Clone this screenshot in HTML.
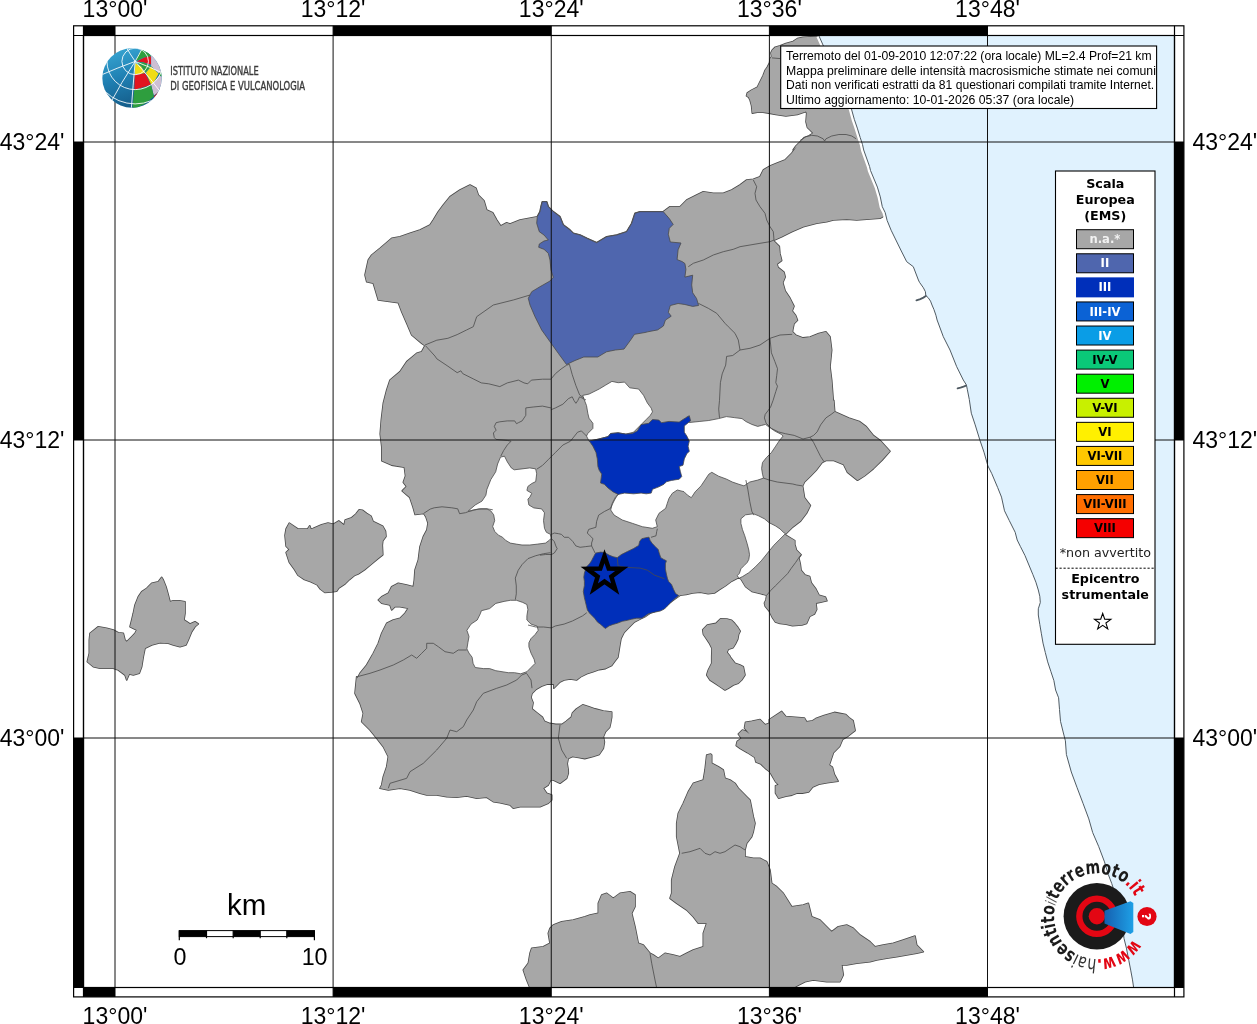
<!DOCTYPE html><html><head><meta charset="utf-8"><style>html,body{margin:0;padding:0;background:#fff;overflow:hidden;}svg{display:block}</style></head><body>
<svg width="1257" height="1024" viewBox="0 0 1257 1024">
<rect width="1257" height="1024" fill="#fff"/>
<defs><clipPath id="map"><rect x="83.5" y="35.5" width="1091" height="952"/></clipPath></defs>
<g clip-path="url(#map)">
<polygon points="470,185 476,188.3 478.3,195 484,200.7 486.7,210 492.7,212.7 496.7,220 500.7,226 506.7,222.7 510,224 520,220 537.3,216.7 540,211.7 541,206.7 542.3,201.7 546.7,201.7 548.3,206.7 553.3,211.7 560,216.7 563.3,225 570,230 573.3,233.3 580,235 586.7,238.3 596.7,242.7 606.7,236.7 616.7,235 626.7,231.7 631.7,223.3 635,213.3 640,211.7 663.3,211.7 670,206.7 680,206.7 686.7,200 696.7,195 703.3,191.7 713.3,193.3 723.3,193.3 731.7,190 740,185 746.7,180 753.3,179.3 760,176.7 763.3,170 770,166 776.7,163.3 785,160 791.7,153.3 796.7,146.7 793.1,150 795.9,146 800.2,141.7 804.5,137.4 808.8,136 813.1,133.1 810.3,130.2 807.4,127.4 806,121.7 806.7,113.1 806,111.6 797.4,114.5 785.9,115.9 775.9,114.5 768.7,113.1 763,112.3 757.3,112.3 752.3,113.1 751.6,105.9 750.1,100.2 748.7,97.3 746.5,95.9 747.3,93 751.6,90.1 757.3,87.3 760.1,81.6 763,75.8 765.2,70.1 767.3,67.2 769.5,62.9 770.2,58.6 771.6,56.5 770.9,52.9 772.3,50 775.2,47.2 780.2,45.8 785.9,43.6 793.1,41.5 797.4,38.6 803.1,37.2 818.1,36.4 819,36 851.4,108.8 854.3,119.3 857.3,128.1 860.2,137.5 862.5,144.5 863.7,150 869.6,166.6 870.5,170.5 877.4,187.1 880.3,196.9 882.3,206.7 885.2,212.6 882.7,216.7 880,218.3 866.7,219.3 856.7,220 846.7,219.3 833.3,220 826.7,221.7 816.7,223.3 803.3,226.7 791.7,231.7 781.7,236.7 773.4,240.6 779.3,246.4 779.9,253.4 781.7,260.5 777,264 778.1,267.5 784,272.2 785.2,276.9 782.8,282.8 785.2,291 789.9,298 794,306.2 792.2,310.9 795.7,315.6 797.5,320.3 794,323.8 792.8,329.6 792.5,331.8 796,335.3 803,337.9 810.1,337 818.8,333.5 825.9,331.8 830,336.7 831.7,350 830,366.7 831.7,380 833.3,401 833.8,400.3 834.7,411.7 848.7,417.9 859.3,421.4 866.3,426.7 873.3,435.4 880.4,440.7 890,451.3 882.1,460.1 873.3,468.8 864.5,475.9 857.5,480.3 847.5,472.3 843.6,464.5 833.8,460.5 826,460.5 822.1,462.5 816.2,470.3 810.4,476.2 804.5,482 802.6,485.9 804.5,497.7 810.4,505.5 806.5,513.3 800.6,521.1 792.8,527 785,534.8 794.8,540.6 794.8,544.5 795.6,546.9 796.4,550 801.1,554.7 798.8,557.8 800.3,564.1 801.1,570.3 805,575 809.7,576.6 811.2,582.8 815.9,589.1 819.1,595.3 825.3,596.9 826.9,600.8 820.6,602.3 815.9,603.1 816.7,609.4 814.4,614.1 809.7,616.4 806.6,623.4 801.9,625 792.5,625.8 786.2,624.2 780,623.4 775.3,621.9 772.2,617.2 769.1,610.9 765.2,606.2 764.4,603.1 765.9,600 766.7,595.3 761.2,593.8 751.9,591.4 745.6,586.7 740.9,578.9 739.4,578.1 737.8,578.1 731.6,581.2 725.3,585.9 719.1,589.8 714.4,593 708.1,593.8 700.3,592.2 692.5,593 686.2,594.5 680,595.3 678.9,596.2 671.6,601.4 665.4,606.5 657.2,610.7 651,612.7 644.8,616.9 640.6,618.9 634.4,622 628.2,628.3 624.1,632.4 621,638.6 619.9,644.8 618.9,651 617.9,657.2 614.8,661.3 611.7,665.5 605.5,668.6 599.3,669.6 593.1,671.7 586.8,673.8 580.6,676.9 576.5,680 570.3,678.9 564.1,680 560,682 555.8,686.2 553.8,688.2 553.8,684.1 547.5,684.1 541.3,686.2 536.2,689.3 532,693.4 531,697.5 533.1,702.7 532,708.9 537.2,713.1 542.4,717.2 544.4,721.3 549.6,723.4 555.8,724.4 562,724.4 566.2,721.3 571.3,717.2 572.4,713.1 576.5,708.9 582.7,704.8 588.9,706.8 595.1,708.9 603.4,711 611.7,712 611.7,717.2 610.6,723.4 609.6,727.5 605.5,731.7 603.4,736.8 604.4,742 603.4,748.2 599.3,754.4 593.1,756.5 584.8,758.6 578.6,757.5 572.4,756.5 568.2,758.6 567.2,763.7 568.2,769.9 568.3,773.3 566.7,778.3 560,783.3 553.3,780 550.7,780 548.3,785 543.3,788.3 546.7,793.3 551.7,795 551.7,800 548.3,803.3 540,806.7 530,806.7 520,806.7 513.3,808.3 510,805 500,802.7 493.3,801.7 486.7,797.3 476.7,798.3 466.7,796 456.7,797.3 446.7,796.7 436.7,795 426.7,795 420,793.3 410,790 400,788.3 388.3,790 380,788.3 381.7,785 383.3,776.7 386.7,766.7 388.3,756.7 383.3,746.7 376.7,738.3 370,730 361.7,721.7 363.3,713.3 360,703.3 355,693.3 356.7,676.7 357.3,678.3 360,673.3 366.7,665 373.3,653.3 378.3,643.3 381.7,633.3 386.7,623.3 393.3,620 400,618.3 405,613.3 408.3,608.3 400,606.7 395,606.7 391.7,610 390,605 381.7,603.3 378.3,600 381.7,596.7 388.3,593.3 391.7,586.7 398.3,583.3 406.7,585 413.3,586.7 414.3,580 415,570 418.3,560 420,546.7 423.3,536.7 426.9,530 428,523.1 425.9,516.7 423.7,513.4 415.1,514.5 413,507 409.7,497.3 402.2,490.9 406.5,486.6 403.3,482.3 405.5,475.9 404.4,467.3 391.5,465.1 381.8,460.8 381.8,446.9 380.2,434 381.3,420 381.7,416.7 383.3,403.3 386.7,390 390,380 400,371.7 406.7,361.7 416.7,353.3 421.7,351.7 425,345.7 421.7,343.3 411.7,335 406.7,323.3 401.7,311.7 398.3,302.7 378.3,300 373.3,283.3 366.7,281.7 365,275 368.3,260 371.7,255 380,248.3 391.7,238.3 400,236.7 410,233.3 420,230 430,225 433.3,220 438.3,211.7 443.3,205 450,196.7 460,190" fill="#a7a7a7" stroke="#4a4a4a" stroke-width="1.6" stroke-linejoin="round"/>
<polygon points="161.7,577.3 163.3,580 166,586.7 168.3,595 170,601.7 173.3,600.7 179.3,600.7 185,601.7 185,613.3 184,620 186.7,621.7 190,624 195,621.7 198.3,624 195,626.7 191.7,631.7 188.3,640 186,645 180,646.7 173.3,645 168.3,643.3 160,642.7 151.7,645 145,648.3 143.3,656.7 141.7,666.7 139.3,673.3 133.3,675 129.3,674 126.7,680 125,675 118.3,670 113.3,668.3 106.7,668.3 100,668.3 93.3,666.7 87.3,661.7 89.3,653.3 89.3,640 90,633.3 98.3,626.7 106.7,628.3 113.3,630 118.3,632.7 123.3,633.3 125,640 126.7,641.7 131.7,636.7 135,633.3 136.7,630 130,626.7 131.7,620 133.3,613.3 135,605 138.3,596.7 141.7,591.7 146.7,588.3 151.7,583.3 158.3,581.7" fill="#a7a7a7" stroke="#4a4a4a" stroke-width="1.6" stroke-linejoin="round"/>
<polygon points="289.3,523.1 297.9,529 307.6,529 309.8,525.8 310.8,529 313,528.5 321.6,524.7 328,523.1 333.4,524.2 338.8,520.9 344.1,525.2 345.2,519.9 351.7,517.7 355.9,514 359.2,509.7 362.4,510.2 366.7,513.4 371,516.1 373.1,521.5 382.8,526.3 385.5,531.2 386,536.5 382.8,540.8 382.3,545.1 382.8,554.8 377.4,559.1 371,564.5 364.5,569.8 358.1,574.1 354.9,575.2 349.5,579.5 345.2,583.8 338.8,588.1 336.6,591.3 331.2,591.9 324.8,592.4 320.5,589.2 317.3,584.9 310.8,581.7 304.4,579.5 297.9,575.2 294.7,569.8 289.3,562.3 286.1,552.6 289.3,549.4 286.1,546.2 285,535.5 286.1,529" fill="#a7a7a7" stroke="#4a4a4a" stroke-width="1.6" stroke-linejoin="round"/>
<polygon points="702.7,629.7 707.3,625 715.9,623.4 720.6,618.8 726.9,619.1 731.6,620.3 734.7,623.4 737.8,627.3 740.2,631.2 738.6,634.4 737.8,639.1 735.5,643.8 733.1,647.7 728.4,649.2 726.9,652.3 730,656.2 730,656.7 735,663.3 740,665 743.3,666.7 745,675 741.7,680 738.3,683.3 733.3,685 728.3,688.3 725,690 720,686.7 715,683.3 710,680 706.7,675 708.3,670 711.7,663.3 711.7,656.7 712,648.4 709.7,643.8 706.6,639.1 703.4,634.4" fill="#a7a7a7" stroke="#4a4a4a" stroke-width="1.6" stroke-linejoin="round"/>
<polygon points="738.3,734.1 742.4,730 745.5,731 749.6,734.1 744.5,727.9 745.5,722.2 751.7,721.2 760,719.6 765.2,724.8 769.3,723.3 769.3,719.6 781.7,711.4 785.8,716.5 804.5,718.1 806.5,721.7 812.7,720.7 815.8,718.6 824.1,715.5 834.4,712.4 839.6,713.4 845.8,714.5 848.9,717.6 853.1,720.7 855.1,730.5 847.9,736.2 842.7,739.3 839.6,746.5 833.4,752.7 831.3,758.9 829.3,765.1 832.4,767.2 834.4,774.5 838.1,781.2 827.2,782.7 818.9,784.3 812.7,786.9 808.6,792 802.4,793.1 797.2,793.1 792,795.1 785.8,796.2 778.6,798.2 775.5,793.1 775.5,785.8 778.6,784.8 775.5,781.7 771.4,774.5 769.3,771.4 765.2,768.3 761,764.1 755.9,762 754.8,757.4 747.6,752.7 740.3,748.6 736.2,745.5 737.2,741.4 741.4,738.3" fill="#a7a7a7" stroke="#4a4a4a" stroke-width="1.6" stroke-linejoin="round"/>
<polygon points="530,988 526.7,980 523.3,970 528.3,963.3 530,953.3 531.7,948.3 543.3,946.7 550,943.3 548.3,933.3 550,928.3 553.3,925 561.7,921.7 573.3,920 585,916.7 590,915 598.3,913.3 598.3,903.3 601.7,895 606.7,893.3 613.3,898.3 620,893.3 630,891.7 635,895 635,906.7 631.7,913.3 635,926.7 638.3,943.3 643.3,945 650,953.3 653.3,955 658.3,958.3 665,953.3 673.3,955 680,956.7 686.7,953.3 693.3,950 703.3,946.7 703.3,933.3 706.7,923.3 698.3,923.3 693.3,916.7 686.7,910 676.7,903.3 670,898.3 671.7,893.3 671.7,880 675,866.7 680,853.3 676.7,836.7 676.7,823.3 678.3,813.3 683.3,803.3 688.3,791.7 693.3,783.3 703.3,780 705,770 706.7,755 710.7,754 711.7,755 711.7,763.3 718.3,766.7 723.3,770 725,778.3 730,780 735,783.3 738.3,788.3 743.3,793.3 746.7,796.7 750,800 751.7,808.3 753.3,816.7 755,823.3 753.3,831.7 751.7,836.7 746.7,843.3 745,850 745,856.7 753.3,858.3 760,858.3 766.7,861.7 770,870 771.7,883.3 776.7,886.7 783.3,893.3 791.7,906.7 803.3,905 808.3,903.3 811.7,916.7 820,920 826.7,926.7 831.7,931.7 838.3,926.7 846.7,925 853.3,928.3 860,935 870,941.7 875,946.7 883.3,945 893.3,943.3 903.3,940 915,936 916.7,945 923.3,951.7 916.7,953.3 906.7,955 896.7,956.7 886.7,958.3 876.7,960 870,961.7 856.7,963.3 846.7,965 841.7,965 843.3,975 840,981.7 826.7,981.7 813.3,980 805,981.7 796.7,986 793.3,988" fill="#a7a7a7" stroke="#4a4a4a" stroke-width="1.6" stroke-linejoin="round"/>
<polygon points="470,185 476,188.3 478.3,195 484,200.7 486.7,210 492.7,212.7 496.7,220 500.7,226 506.7,222.7 510,224 520,220 537.3,216.7 540,211.7 541,206.7 542.3,201.7 546.7,201.7 548.3,206.7 553.3,211.7 560,216.7 563.3,225 570,230 573.3,233.3 580,235 586.7,238.3 596.7,242.7 606.7,236.7 616.7,235 626.7,231.7 631.7,223.3 635,213.3 640,211.7 663.3,211.7 670,206.7 680,206.7 686.7,200 696.7,195 703.3,191.7 713.3,193.3 723.3,193.3 731.7,190 740,185 746.7,180 753.3,179.3 760,176.7 763.3,170 770,166 776.7,163.3 785,160 791.7,153.3 796.7,146.7 793.1,150 795.9,146 800.2,141.7 804.5,137.4 808.8,136 813.1,133.1 810.3,130.2 807.4,127.4 806,121.7 806.7,113.1 806,111.6 797.4,114.5 785.9,115.9 775.9,114.5 768.7,113.1 763,112.3 757.3,112.3 752.3,113.1 751.6,105.9 750.1,100.2 748.7,97.3 746.5,95.9 747.3,93 751.6,90.1 757.3,87.3 760.1,81.6 763,75.8 765.2,70.1 767.3,67.2 769.5,62.9 770.2,58.6 771.6,56.5 770.9,52.9 772.3,50 775.2,47.2 780.2,45.8 785.9,43.6 793.1,41.5 797.4,38.6 803.1,37.2 818.1,36.4 819,36 851.4,108.8 854.3,119.3 857.3,128.1 860.2,137.5 862.5,144.5 863.7,150 869.6,166.6 870.5,170.5 877.4,187.1 880.3,196.9 882.3,206.7 885.2,212.6 882.7,216.7 880,218.3 866.7,219.3 856.7,220 846.7,219.3 833.3,220 826.7,221.7 816.7,223.3 803.3,226.7 791.7,231.7 781.7,236.7 773.4,240.6 779.3,246.4 779.9,253.4 781.7,260.5 777,264 778.1,267.5 784,272.2 785.2,276.9 782.8,282.8 785.2,291 789.9,298 794,306.2 792.2,310.9 795.7,315.6 797.5,320.3 794,323.8 792.8,329.6 792.5,331.8 796,335.3 803,337.9 810.1,337 818.8,333.5 825.9,331.8 830,336.7 831.7,350 830,366.7 831.7,380 833.3,401 833.8,400.3 834.7,411.7 848.7,417.9 859.3,421.4 866.3,426.7 873.3,435.4 880.4,440.7 890,451.3 882.1,460.1 873.3,468.8 864.5,475.9 857.5,480.3 847.5,472.3 843.6,464.5 833.8,460.5 826,460.5 822.1,462.5 816.2,470.3 810.4,476.2 804.5,482 802.6,485.9 804.5,497.7 810.4,505.5 806.5,513.3 800.6,521.1 792.8,527 785,534.8 794.8,540.6 794.8,544.5 795.6,546.9 796.4,550 801.1,554.7 798.8,557.8 800.3,564.1 801.1,570.3 805,575 809.7,576.6 811.2,582.8 815.9,589.1 819.1,595.3 825.3,596.9 826.9,600.8 820.6,602.3 815.9,603.1 816.7,609.4 814.4,614.1 809.7,616.4 806.6,623.4 801.9,625 792.5,625.8 786.2,624.2 780,623.4 775.3,621.9 772.2,617.2 769.1,610.9 765.2,606.2 764.4,603.1 765.9,600 766.7,595.3 761.2,593.8 751.9,591.4 745.6,586.7 740.9,578.9 739.4,578.1 737.8,578.1 731.6,581.2 725.3,585.9 719.1,589.8 714.4,593 708.1,593.8 700.3,592.2 692.5,593 686.2,594.5 680,595.3 678.9,596.2 671.6,601.4 665.4,606.5 657.2,610.7 651,612.7 644.8,616.9 640.6,618.9 634.4,622 628.2,628.3 624.1,632.4 621,638.6 619.9,644.8 618.9,651 617.9,657.2 614.8,661.3 611.7,665.5 605.5,668.6 599.3,669.6 593.1,671.7 586.8,673.8 580.6,676.9 576.5,680 570.3,678.9 564.1,680 560,682 555.8,686.2 553.8,688.2 553.8,684.1 547.5,684.1 541.3,686.2 536.2,689.3 532,693.4 531,697.5 533.1,702.7 532,708.9 537.2,713.1 542.4,717.2 544.4,721.3 549.6,723.4 555.8,724.4 562,724.4 566.2,721.3 571.3,717.2 572.4,713.1 576.5,708.9 582.7,704.8 588.9,706.8 595.1,708.9 603.4,711 611.7,712 611.7,717.2 610.6,723.4 609.6,727.5 605.5,731.7 603.4,736.8 604.4,742 603.4,748.2 599.3,754.4 593.1,756.5 584.8,758.6 578.6,757.5 572.4,756.5 568.2,758.6 567.2,763.7 568.2,769.9 568.3,773.3 566.7,778.3 560,783.3 553.3,780 550.7,780 548.3,785 543.3,788.3 546.7,793.3 551.7,795 551.7,800 548.3,803.3 540,806.7 530,806.7 520,806.7 513.3,808.3 510,805 500,802.7 493.3,801.7 486.7,797.3 476.7,798.3 466.7,796 456.7,797.3 446.7,796.7 436.7,795 426.7,795 420,793.3 410,790 400,788.3 388.3,790 380,788.3 381.7,785 383.3,776.7 386.7,766.7 388.3,756.7 383.3,746.7 376.7,738.3 370,730 361.7,721.7 363.3,713.3 360,703.3 355,693.3 356.7,676.7 357.3,678.3 360,673.3 366.7,665 373.3,653.3 378.3,643.3 381.7,633.3 386.7,623.3 393.3,620 400,618.3 405,613.3 408.3,608.3 400,606.7 395,606.7 391.7,610 390,605 381.7,603.3 378.3,600 381.7,596.7 388.3,593.3 391.7,586.7 398.3,583.3 406.7,585 413.3,586.7 414.3,580 415,570 418.3,560 420,546.7 423.3,536.7 426.9,530 428,523.1 425.9,516.7 423.7,513.4 415.1,514.5 413,507 409.7,497.3 402.2,490.9 406.5,486.6 403.3,482.3 405.5,475.9 404.4,467.3 391.5,465.1 381.8,460.8 381.8,446.9 380.2,434 381.3,420 381.7,416.7 383.3,403.3 386.7,390 390,380 400,371.7 406.7,361.7 416.7,353.3 421.7,351.7 425,345.7 421.7,343.3 411.7,335 406.7,323.3 401.7,311.7 398.3,302.7 378.3,300 373.3,283.3 366.7,281.7 365,275 368.3,260 371.7,255 380,248.3 391.7,238.3 400,236.7 410,233.3 420,230 430,225 433.3,220 438.3,211.7 443.3,205 450,196.7 460,190" fill="#a7a7a7"/>
<polygon points="161.7,577.3 163.3,580 166,586.7 168.3,595 170,601.7 173.3,600.7 179.3,600.7 185,601.7 185,613.3 184,620 186.7,621.7 190,624 195,621.7 198.3,624 195,626.7 191.7,631.7 188.3,640 186,645 180,646.7 173.3,645 168.3,643.3 160,642.7 151.7,645 145,648.3 143.3,656.7 141.7,666.7 139.3,673.3 133.3,675 129.3,674 126.7,680 125,675 118.3,670 113.3,668.3 106.7,668.3 100,668.3 93.3,666.7 87.3,661.7 89.3,653.3 89.3,640 90,633.3 98.3,626.7 106.7,628.3 113.3,630 118.3,632.7 123.3,633.3 125,640 126.7,641.7 131.7,636.7 135,633.3 136.7,630 130,626.7 131.7,620 133.3,613.3 135,605 138.3,596.7 141.7,591.7 146.7,588.3 151.7,583.3 158.3,581.7" fill="#a7a7a7"/>
<polygon points="289.3,523.1 297.9,529 307.6,529 309.8,525.8 310.8,529 313,528.5 321.6,524.7 328,523.1 333.4,524.2 338.8,520.9 344.1,525.2 345.2,519.9 351.7,517.7 355.9,514 359.2,509.7 362.4,510.2 366.7,513.4 371,516.1 373.1,521.5 382.8,526.3 385.5,531.2 386,536.5 382.8,540.8 382.3,545.1 382.8,554.8 377.4,559.1 371,564.5 364.5,569.8 358.1,574.1 354.9,575.2 349.5,579.5 345.2,583.8 338.8,588.1 336.6,591.3 331.2,591.9 324.8,592.4 320.5,589.2 317.3,584.9 310.8,581.7 304.4,579.5 297.9,575.2 294.7,569.8 289.3,562.3 286.1,552.6 289.3,549.4 286.1,546.2 285,535.5 286.1,529" fill="#a7a7a7"/>
<polygon points="702.7,629.7 707.3,625 715.9,623.4 720.6,618.8 726.9,619.1 731.6,620.3 734.7,623.4 737.8,627.3 740.2,631.2 738.6,634.4 737.8,639.1 735.5,643.8 733.1,647.7 728.4,649.2 726.9,652.3 730,656.2 730,656.7 735,663.3 740,665 743.3,666.7 745,675 741.7,680 738.3,683.3 733.3,685 728.3,688.3 725,690 720,686.7 715,683.3 710,680 706.7,675 708.3,670 711.7,663.3 711.7,656.7 712,648.4 709.7,643.8 706.6,639.1 703.4,634.4" fill="#a7a7a7"/>
<polygon points="738.3,734.1 742.4,730 745.5,731 749.6,734.1 744.5,727.9 745.5,722.2 751.7,721.2 760,719.6 765.2,724.8 769.3,723.3 769.3,719.6 781.7,711.4 785.8,716.5 804.5,718.1 806.5,721.7 812.7,720.7 815.8,718.6 824.1,715.5 834.4,712.4 839.6,713.4 845.8,714.5 848.9,717.6 853.1,720.7 855.1,730.5 847.9,736.2 842.7,739.3 839.6,746.5 833.4,752.7 831.3,758.9 829.3,765.1 832.4,767.2 834.4,774.5 838.1,781.2 827.2,782.7 818.9,784.3 812.7,786.9 808.6,792 802.4,793.1 797.2,793.1 792,795.1 785.8,796.2 778.6,798.2 775.5,793.1 775.5,785.8 778.6,784.8 775.5,781.7 771.4,774.5 769.3,771.4 765.2,768.3 761,764.1 755.9,762 754.8,757.4 747.6,752.7 740.3,748.6 736.2,745.5 737.2,741.4 741.4,738.3" fill="#a7a7a7"/>
<polygon points="530,988 526.7,980 523.3,970 528.3,963.3 530,953.3 531.7,948.3 543.3,946.7 550,943.3 548.3,933.3 550,928.3 553.3,925 561.7,921.7 573.3,920 585,916.7 590,915 598.3,913.3 598.3,903.3 601.7,895 606.7,893.3 613.3,898.3 620,893.3 630,891.7 635,895 635,906.7 631.7,913.3 635,926.7 638.3,943.3 643.3,945 650,953.3 653.3,955 658.3,958.3 665,953.3 673.3,955 680,956.7 686.7,953.3 693.3,950 703.3,946.7 703.3,933.3 706.7,923.3 698.3,923.3 693.3,916.7 686.7,910 676.7,903.3 670,898.3 671.7,893.3 671.7,880 675,866.7 680,853.3 676.7,836.7 676.7,823.3 678.3,813.3 683.3,803.3 688.3,791.7 693.3,783.3 703.3,780 705,770 706.7,755 710.7,754 711.7,755 711.7,763.3 718.3,766.7 723.3,770 725,778.3 730,780 735,783.3 738.3,788.3 743.3,793.3 746.7,796.7 750,800 751.7,808.3 753.3,816.7 755,823.3 753.3,831.7 751.7,836.7 746.7,843.3 745,850 745,856.7 753.3,858.3 760,858.3 766.7,861.7 770,870 771.7,883.3 776.7,886.7 783.3,893.3 791.7,906.7 803.3,905 808.3,903.3 811.7,916.7 820,920 826.7,926.7 831.7,931.7 838.3,926.7 846.7,925 853.3,928.3 860,935 870,941.7 875,946.7 883.3,945 893.3,943.3 903.3,940 915,936 916.7,945 923.3,951.7 916.7,953.3 906.7,955 896.7,956.7 886.7,958.3 876.7,960 870,961.7 856.7,963.3 846.7,965 841.7,965 843.3,975 840,981.7 826.7,981.7 813.3,980 805,981.7 796.7,986 793.3,988" fill="#a7a7a7"/>
<polyline points="819,36 851.4,108.8 854.3,119.3 857.3,128.1 860.2,137.5 862.5,144.5 863.7,150 869.6,166.6 870.5,170.5 877.4,187.1 880.3,196.9 882.3,206.7 885.2,212.6 887.1,220.4 891.1,230.2 895.9,240 900.8,250 906.7,261.7 913.3,266.7 918.4,280 919.5,282.3 923.4,287.8 925.4,291.7 925.8,295.6 928.1,297.6 930.5,301.1 932,305 934,309.7 935.9,315.2 937.1,320 943.3,336.7 950,350 956.7,366.7 963.3,380 966.4,384.9 967.4,389.8 969.3,399.5 971.3,413.2 975.2,424.9 980,440.5 984,452.2 987.9,465.9 991.8,473.7 997.6,487.4 1001.5,497.1 1004.5,510.8 1009.3,520.6 1015.2,532.3 1017.2,540 1020.3,546.3 1025,555.6 1028.9,565 1032.8,574.4 1035.9,582.2 1038.3,590 1039.8,596.3 1040.3,602.5 1038.3,608.8 1038.3,615 1039.8,624.4 1041.4,633.8 1043,643.1 1045.3,652.5 1047.7,661.9 1050.8,671.3 1053.9,680.6 1055.6,690 1058.6,697.8 1059.5,709.5 1060.5,721.3 1063.4,733 1065.4,740.8 1066.4,754.5 1071.3,772 1077.1,787.7 1083,803.3 1088.8,818.9 1092.7,832.6 1098.6,846.3 1104.5,861.9 1108.3,874.5 1111.7,883.4 1115.5,895 1119,908 1122,922 1124,938.4 1126.4,948.1 1128.8,960.4 1130.7,970.1 1132.5,979.9 1133.7,988" fill="none" stroke="#fff" stroke-width="5.5" stroke-linejoin="round"/>
<polygon points="817.8,33.5 819,36 851.4,108.8 854.3,119.3 857.3,128.1 860.2,137.5 862.5,144.5 863.7,150 869.6,166.6 870.5,170.5 877.4,187.1 880.3,196.9 882.3,206.7 885.2,212.6 887.1,220.4 891.1,230.2 895.9,240 900.8,250 906.7,261.7 913.3,266.7 918.4,280 919.5,282.3 923.4,287.8 925.4,291.7 925.8,295.6 928.1,297.6 930.5,301.1 932,305 934,309.7 935.9,315.2 937.1,320 943.3,336.7 950,350 956.7,366.7 963.3,380 966.4,384.9 967.4,389.8 969.3,399.5 971.3,413.2 975.2,424.9 980,440.5 984,452.2 987.9,465.9 991.8,473.7 997.6,487.4 1001.5,497.1 1004.5,510.8 1009.3,520.6 1015.2,532.3 1017.2,540 1020.3,546.3 1025,555.6 1028.9,565 1032.8,574.4 1035.9,582.2 1038.3,590 1039.8,596.3 1040.3,602.5 1038.3,608.8 1038.3,615 1039.8,624.4 1041.4,633.8 1043,643.1 1045.3,652.5 1047.7,661.9 1050.8,671.3 1053.9,680.6 1055.6,690 1058.6,697.8 1059.5,709.5 1060.5,721.3 1063.4,733 1065.4,740.8 1066.4,754.5 1071.3,772 1077.1,787.7 1083,803.3 1088.8,818.9 1092.7,832.6 1098.6,846.3 1104.5,861.9 1108.3,874.5 1111.7,883.4 1115.5,895 1119,908 1122,922 1124,938.4 1126.4,948.1 1128.8,960.4 1130.7,970.1 1132.5,979.9 1133.7,988 1133.5,989.5 1176.5,989.5 1176.5,33.5" fill="#e0f2fe"/>
<polyline points="819,36 851.4,108.8 854.3,119.3 857.3,128.1 860.2,137.5 862.5,144.5 863.7,150 869.6,166.6 870.5,170.5 877.4,187.1 880.3,196.9 882.3,206.7 885.2,212.6 887.1,220.4 891.1,230.2 895.9,240 900.8,250 906.7,261.7 913.3,266.7 918.4,280 919.5,282.3 923.4,287.8 925.4,291.7 925.8,295.6 928.1,297.6 930.5,301.1 932,305 934,309.7 935.9,315.2 937.1,320 943.3,336.7 950,350 956.7,366.7 963.3,380 966.4,384.9 967.4,389.8 969.3,399.5 971.3,413.2 975.2,424.9 980,440.5 984,452.2 987.9,465.9 991.8,473.7 997.6,487.4 1001.5,497.1 1004.5,510.8 1009.3,520.6 1015.2,532.3 1017.2,540 1020.3,546.3 1025,555.6 1028.9,565 1032.8,574.4 1035.9,582.2 1038.3,590 1039.8,596.3 1040.3,602.5 1038.3,608.8 1038.3,615 1039.8,624.4 1041.4,633.8 1043,643.1 1045.3,652.5 1047.7,661.9 1050.8,671.3 1053.9,680.6 1055.6,690 1058.6,697.8 1059.5,709.5 1060.5,721.3 1063.4,733 1065.4,740.8 1066.4,754.5 1071.3,772 1077.1,787.7 1083,803.3 1088.8,818.9 1092.7,832.6 1098.6,846.3 1104.5,861.9 1108.3,874.5 1111.7,883.4 1115.5,895 1119,908 1122,922 1124,938.4 1126.4,948.1 1128.8,960.4 1130.7,970.1 1132.5,979.9 1133.7,988" fill="none" stroke="#4f5a62" stroke-width="1" stroke-linejoin="round"/>
<polyline points="925.8,296 923.4,297.6 920.3,299.1 916.4,300.3" fill="none" stroke="#4f5a62" stroke-width="1.8" stroke-linecap="round"/>
<polyline points="966,385.6 963.5,386.6 960.5,387.6 957.6,388.4" fill="none" stroke="#4f5a62" stroke-width="1.8" stroke-linecap="round"/>
<polygon points="582.7,395.4 589,394.1 599.2,389 605.5,385.2 611.9,381.4 618.2,382.7 624.6,382.1 629.7,387.8 638.6,389 643.6,395.4 647.4,403 651.2,408.1 652.5,411.9 650,415.7 646.2,419.5 642.4,423.3 638.6,427.1 633.5,432.2 625.9,434.1 618.2,432.8 610.6,433.5 608.1,436.6 597.9,439.2 589,441.1 586.5,436 587.8,433.5 592.9,428.4 592.9,423.3 589,418.2 587.8,413.2 586.5,405.5 584,399.2" fill="#fff" stroke="#4a4a4a" stroke-width="0.8" stroke-linejoin="round"/>
<polygon points="687.3,416.7 689.3,422.5 699.1,421.5 708.8,420.5 718.6,418.6 726.4,416.6 734.2,417.6 742,418.6 745.9,421.5 751.8,424.4 757.7,426.4 761.6,425.4 765.5,424.4 769.4,427.3 775.2,431.3 781.1,434.2 783,436.1 779.1,441 775.2,446.9 771.3,452.7 766.4,457.6 762.5,462.5 761.6,468.4 762.5,474.2 763.5,478.1 757.7,480.1 749.8,482 744,485.9 738.1,484 732.3,482 726.4,479.1 718.6,476.2 711.8,472.3 708.8,474.2 704.9,480.1 701,485.9 695.2,491.8 691.3,497.7 687.3,495 684,491.7 677.3,490 672.3,493.3 669,498.3 667.3,503.3 665.7,508.3 659,513.3 655.7,520 657.3,526.7 652.3,528.3 642.3,526.7 632.3,523.3 622.3,520 614,515 610.7,510 612.3,503.3 615.7,496.7 622.3,491 632.3,489 642.3,488 652.3,484 662.3,479 672.3,475 676,475 676,466.7 680,458.3 684,451.7 684,446.7 684,440 682,435 681,426.7 686,420" fill="#fff" stroke="#4a4a4a" stroke-width="0.8" stroke-linejoin="round"/>
<polygon points="468.3,510.9 475.2,505 482,501.1 485.9,495.2 486.9,489.4 490.8,479.6 495.7,471.8 497.6,464 500.5,457.1 504.5,456.2 507.4,462 511.3,467.9 514.2,469.8 522,468.9 529.8,467.9 535.7,468.9 536.7,473.8 535.7,481.6 531.8,483.5 527.9,486.4 526.9,490.4 531.8,493.3 529.8,497.2 527.9,499.1 528.9,505 533.8,507.9 541.6,508.9 544.5,512.8 543.5,520.6 544.5,528.4 546.4,532.3 550.4,534.3 551.3,538.2 549.4,540.2 545.5,543.1 537.7,544.1 529.8,545 522,545 516.2,544.1 510.3,543.1 505.4,540.2 502.5,537.2 498.6,535.3 494.7,531.4 492.7,526.5 494.7,520.6 493.7,514.8 490.8,510.9 486.9,508.9 479.1,508.9 471.2,510.9" fill="#fff" stroke="#4a4a4a" stroke-width="0.8" stroke-linejoin="round"/>
<polygon points="466.9,630.3 471,624.1 477.2,620 480.3,613.8 481.4,610.7 489.6,608.6 495.8,603.4 504.1,601.4 510.3,600.3 516.5,600.3 522.7,602.4 526.9,604.5 527.9,609.6 526.9,615.8 526.9,620 531,624.1 537.2,626.2 538.2,630.3 535.1,634.5 531,638.6 528.9,642.7 528.9,646.9 531,653.1 534.1,659.3 535.1,663.4 531,667.5 526.9,671.7 520.7,673.8 514.5,672.7 508.3,672.7 502,671.7 495.8,670.7 489.6,668.6 483.4,668.6 475.2,667.5 473.1,663.4 472.1,657.2 469,653.1 466.9,648.9 467.9,642.7 469,636.5" fill="#fff" stroke="#4a4a4a" stroke-width="0.8" stroke-linejoin="round"/>
<polygon points="740.9,518.8 745.6,514.8 753.4,513.8 758.1,515.6 764.4,518.8 769.1,522.7 775.3,525.8 780,528.9 783.9,532.8 785.5,533.6 780,539.1 773.8,545.3 767.5,553.1 761.2,560.9 755,567.2 748.8,572.7 742.5,576.6 739.4,578.1 737,575.8 739.4,573.4 740.9,568.8 744.1,565.6 747.2,562.5 748.8,559.4 749.5,554.7 748.8,550 747.2,543.8 744.8,535.9 742.5,529.7 740.9,523.4" fill="#fff" stroke="#4a4a4a" stroke-width="0.8" stroke-linejoin="round"/>
<polygon points="537.3,216.7 540,211.7 541,206.7 542.3,201.7 546.7,201.7 548.3,206.7 553.3,211.7 560,216.7 563.3,225 570,230 573.3,233.3 580,235 586.7,238.3 596.7,242.7 606.7,236.7 616.7,235 626.7,231.7 631.7,223.3 635,213.3 640,211.7 663.3,211.7 669.3,218.6 673.2,224.4 669.3,228.3 668.3,234.2 670.3,242 681,243 678.1,249.8 677.1,259.6 682,261.5 684.9,263.5 685.9,269.3 684.9,277.1 692.7,275.2 691.7,285 692.7,292.8 696.6,298.6 698.6,305.5 692.7,306.4 684.9,304.5 678.1,303.5 670.3,305.5 668.3,312.3 671.2,316.2 665.4,320.1 663.4,326 657.6,329.9 647.8,331.8 645,332.5 634.5,334.3 631,339.5 624,349.1 615.3,350 606.5,351.8 597.8,357 583.8,357 575,360.5 566.5,364.5 558.3,353.3 550,341.7 541.7,330 535,316.7 530,305 528.3,298.3 531.7,291.7 540,286.7 550,281 553.3,277.3 551,270 550,260 548.3,253.3 544,249.3 538.7,247.3 539.3,244 544,241 548.3,240 544,235 539.3,231.7 536.7,223.3" fill="#4f66ae" stroke="#4a4a4a" stroke-width="0.8" stroke-linejoin="round"/>
<polygon points="589,441.1 597.9,439.2 608.1,436.6 610.6,433.5 618.2,432.8 625.9,434.1 632.2,433.5 637.3,430.9 641.1,424.6 648.7,423.3 652.5,419.5 658.9,420.1 661.4,422.7 669,421.4 679.2,422.1 683,419.5 689.3,415.7 690.6,420.8 684.3,425.9 684.3,432.2 686.8,436 689.3,441.1 688.1,446.2 689.3,451.3 686.8,453.8 684.3,458.9 683,465.2 679.2,466.5 680.4,471.6 681.7,476.6 679.2,479.2 671.6,480.4 666.5,481.7 663.9,484.3 658.9,486.8 652.5,489.3 651.2,493.1 646.2,493.8 641.1,493.1 633.5,493.8 624.6,493.1 618.2,494.4 613.2,491.9 608.1,488.1 604.3,484.3 600.5,483 601.7,474.1 599.2,470.3 597.9,466.5 597.3,458.9 596,452.5 592.9,446.2 590.3,442.4" fill="#002fba" stroke="#4a4a4a" stroke-width="0.8" stroke-linejoin="round"/>
<polygon points="595.6,553.1 600.8,552.1 604.9,552.6 609,555.1 613.1,556.7 617.2,557.7 621.3,554.6 627.4,551.5 633.6,548.5 638.7,545.4 639.7,541.3 641.8,538.7 645.9,537.7 649,537.2 650,540.3 652.1,543.3 655.1,546.4 658.2,549.5 659.2,553.1 660.8,557.7 663.3,559.2 666.4,560.8 665.4,563.8 665.4,569 666.4,574.1 667.4,578.2 668.5,581.3 671.5,584.4 673.6,589.5 675.6,593.6 678.7,595.6 673.6,599.7 670.5,602.8 667.4,605.9 664.4,609 660.3,611 655.1,612.1 651,613.1 647.9,614.1 644.9,616.2 641.8,618.2 636.7,618.2 631.5,619.2 627.4,620.3 622.3,621.3 617.2,623.3 613.1,624.4 609,625.9 605.4,628.5 602.8,626.4 600.8,624.4 597.7,622.3 594.6,618.2 592.6,616.2 589.5,613.1 587.4,610 586.4,605.9 585.4,601.8 584.4,597.7 583.3,591.5 584.4,585.4 584.4,581.3 583.8,577.2 584.4,573.1 586.4,566.9 589.5,563.8 591.5,560.8 593.6,556.7" fill="#002fba" stroke="#4a4a4a" stroke-width="0.8" stroke-linejoin="round"/>
<polyline points="425,345 436.8,340.2 447.9,338.3 457.2,334.6 466.5,330 473.3,326.7 476.7,316.7 493.3,305 513.3,300 530,295" fill="none" stroke="#4a4a4a" stroke-width="0.8" stroke-linejoin="round"/>
<polyline points="425.6,345.8 434.9,356 436.8,358.8 447.9,366.2 457.2,372.7 460.9,370.8 462.7,373.6 473.9,379.2 481.3,382.9 488.7,383.8 499.8,386.6 507.3,382.9 518.4,380.1 524,382.9 527.7,383.8 531.4,380.1 542.5,379.2 550.9,379.2 555.5,373.6 561.1,369 566.6,365.2 569.4,364.3" fill="none" stroke="#4a4a4a" stroke-width="0.8" stroke-linejoin="round"/>
<polyline points="569.4,364.3 572.2,374.5 575.9,385.6 579.6,394.9 584,398" fill="none" stroke="#4a4a4a" stroke-width="0.8" stroke-linejoin="round"/>
<polyline points="550.9,409.8 555.5,407.9 562.9,404.2 568.5,398.6 572.2,396.8 574,400.5 575.9,403.3 577.8,400.5 579.6,396.8 586,400" fill="none" stroke="#4a4a4a" stroke-width="0.8" stroke-linejoin="round"/>
<polyline points="550.9,407.9 542.5,406.1 533.2,407 525.8,407.9 525.8,415.3 522.1,420.9 518.4,422.7 516.5,423.7 514.7,420.9 507.3,420.9 499.8,421.8 496.1,422.7 494.3,426.5 496.1,430.2 493.4,433 494.3,437.6 496.1,439.4 507.3,440.4 511,441.3" fill="none" stroke="#4a4a4a" stroke-width="0.8" stroke-linejoin="round"/>
<polyline points="511,441.3 507.3,445 503.6,450.6 500.8,456.1" fill="none" stroke="#4a4a4a" stroke-width="0.8" stroke-linejoin="round"/>
<polyline points="586.5,436 581.4,430.9 577.6,432.2 570.3,441.3 562.9,445 555.5,452.4 548.1,459.8 542.5,465.4 536.9,469.1" fill="none" stroke="#4a4a4a" stroke-width="0.8" stroke-linejoin="round"/>
<polyline points="423.7,513.4 430.2,509.1 434.2,507.8 442,506.8 451.8,507.8 457.7,508.8 459.6,513.7 465.5,512.7 473.3,509.8 481.1,508.8 487,508.8 492.8,509.8" fill="none" stroke="#4a4a4a" stroke-width="0.8" stroke-linejoin="round"/>
<polyline points="698.3,303.3 708.3,308.3 716.7,313.3 725,323.3 728.3,326.7 735,333.3 738.3,340 740,350" fill="none" stroke="#4a4a4a" stroke-width="0.8" stroke-linejoin="round"/>
<polyline points="740,350 750,348.3 760,345 770,338.3 780,335 792.2,334.3" fill="none" stroke="#4a4a4a" stroke-width="0.8" stroke-linejoin="round"/>
<polyline points="740,350 732.7,355.5 726.6,356.4 725.7,365.1 722.2,373.9 720.4,382.7 719.5,400.3 718.7,409.1 719.5,417.9" fill="none" stroke="#4a4a4a" stroke-width="0.8" stroke-linejoin="round"/>
<polyline points="770,338.3 771.4,352.8 774.9,361.6 777.5,368.7 776.7,375.7 775.8,382.7 777.5,386.2 775.8,391.5 773.1,400.3 770.5,407.3 767.9,410.8 765.2,414.4 764.4,417.9 766.1,423.1" fill="none" stroke="#4a4a4a" stroke-width="0.8" stroke-linejoin="round"/>
<polyline points="688.3,266.7 693.3,263.3 703.3,260 713.3,255 723.3,251.7 733.3,249.3 740,246.7 750,245 760,243.3 770,241.7 774,240" fill="none" stroke="#4a4a4a" stroke-width="0.8" stroke-linejoin="round"/>
<polyline points="753.3,180 756.7,186.7 755,193.3 756,200 760,206.7 765,213.3 766.7,220 770,226.7 773.3,231.7 774,240" fill="none" stroke="#4a4a4a" stroke-width="0.8" stroke-linejoin="round"/>
<polyline points="800.2,140.3 806,136.7 811.7,135.3 817.4,136 823.2,138.8 824.6,141 826,138.8 831.7,136 838.9,134.5 846.1,134.5 851.8,136 856.1,138.8" fill="none" stroke="#4a4a4a" stroke-width="0.8" stroke-linejoin="round"/>
<polyline points="772,57.9 780.2,58.6" fill="none" stroke="#4a4a4a" stroke-width="0.8" stroke-linejoin="round"/>
<polyline points="834.7,411.7 831.1,414.4 825.9,417.9 820.6,424.9 817.1,431.9 813.6,435.4 810.1,437.2" fill="none" stroke="#4a4a4a" stroke-width="0.8" stroke-linejoin="round"/>
<polyline points="766.1,423.1 771.4,428.4 778.4,431.9 785.4,433.7 794.2,435.4 803,439 810.1,437.2" fill="none" stroke="#4a4a4a" stroke-width="0.8" stroke-linejoin="round"/>
<polyline points="810.1,437.2 813.6,442.5 817.1,449.5 820.6,456.5 824.1,461.8" fill="none" stroke="#4a4a4a" stroke-width="0.8" stroke-linejoin="round"/>
<polyline points="763.5,478.1 769.4,480.1 777.2,482 785,483 792.8,484 796.7,485 802.6,485.9" fill="none" stroke="#4a4a4a" stroke-width="0.8" stroke-linejoin="round"/>
<polyline points="745.9,480.1 747.9,489.8 749.8,501.6 751.8,511.3 753.8,515.2" fill="none" stroke="#4a4a4a" stroke-width="0.8" stroke-linejoin="round"/>
<polyline points="801.1,554.7 798.8,557.8 795.6,562.5 790.9,568.8 787.8,573.4 781.6,579.7 775.3,585.9 770.6,590.6 766.7,595.3" fill="none" stroke="#4a4a4a" stroke-width="0.8" stroke-linejoin="round"/>
<polyline points="618,494.3 614.5,500 610.2,508.6 604.4,511.5 598.7,515.1 596.6,521.5 595.9,527.3 588.7,529.4 587.3,533 590.1,535.9 593,538.7 591.6,543 591.6,545.9 593.7,550.2 595.1,553" fill="none" stroke="#4a4a4a" stroke-width="0.8" stroke-linejoin="round"/>
<polyline points="657.4,528.7 656.7,531.6 656,535.8 651,537.3" fill="none" stroke="#4a4a4a" stroke-width="0.8" stroke-linejoin="round"/>
<polyline points="551.5,534.4 554.3,533 558.6,533.7 561.5,534.4 564.3,537.3 568.6,537.3 572.9,541.6 575.8,545.9 580.1,547.3 585.8,546.6 591.6,545.9" fill="none" stroke="#4a4a4a" stroke-width="0.8" stroke-linejoin="round"/>
<polyline points="551.5,538.7 554.3,541.6 555.8,545.9 557.2,548.7 554.3,553 551.5,554.5 545.7,554.5 540,555.2" fill="none" stroke="#4a4a4a" stroke-width="0.8" stroke-linejoin="round"/>
<polyline points="617.3,558 618,565.9 625.9,567.4 640.2,568.1 647.4,570.2 654.6,575.2 664.6,578.8" fill="none" stroke="#4a4a4a" stroke-width="0.8" stroke-linejoin="round"/>
<polyline points="550.4,552.7 543.6,553.7 535.8,555.7 528,558.6 522.1,564.5 518.2,570.3 515.3,578.1 516.3,585.9 516.3,593.8 515.3,599.7" fill="none" stroke="#4a4a4a" stroke-width="0.8" stroke-linejoin="round"/>
<polyline points="528,625 535.8,627 543.6,627 551.4,627.9 555.3,626 564.1,624.1 572.4,621 582.7,615.8 586.8,612.7" fill="none" stroke="#4a4a4a" stroke-width="0.8" stroke-linejoin="round"/>
<polyline points="357.3,676.7 370,673.3 380,670 393.3,665 403.3,660 411.7,655 416.7,658.3 421.7,653.3 426.7,648.3 426.7,643.3 433.3,643.3 438.3,646.7 445,651.7 453.3,653.3 458.3,650 466.7,650" fill="none" stroke="#4a4a4a" stroke-width="0.8" stroke-linejoin="round"/>
<polyline points="388.3,788.3 390,783.3 406.7,778.3 410,771.7 423.3,763.3 436.7,750 446.7,738.3 450,730 456.7,731.7 463.3,726.7 466.7,720 473.3,710 476.7,701.7 483.3,693.3 496.7,688.3 506.7,685 516.7,680 521.7,675 527,673" fill="none" stroke="#4a4a4a" stroke-width="0.8" stroke-linejoin="round"/>
<polyline points="526.9,673.8 531,680 532,688.2" fill="none" stroke="#4a4a4a" stroke-width="0.8" stroke-linejoin="round"/>
<polyline points="560,725 558.3,738.3 561.7,750 566.7,758.3" fill="none" stroke="#4a4a4a" stroke-width="0.8" stroke-linejoin="round"/>
<polyline points="681.7,853.3 690,851.7 695,850 700,848.3 705,853.3 710,855 715,851.7 720,853.3 725,851.7 730,848.3 735,845 740,846.7 745,850" fill="none" stroke="#4a4a4a" stroke-width="0.8" stroke-linejoin="round"/>
<polyline points="650,953.3 651.7,963.3 655,980 656.7,988" fill="none" stroke="#4a4a4a" stroke-width="0.8" stroke-linejoin="round"/>
<line x1="115.0" y1="35.5" x2="115.0" y2="987.5" stroke="#111" stroke-width="1"/>
<line x1="333.1" y1="35.5" x2="333.1" y2="987.5" stroke="#111" stroke-width="1"/>
<line x1="551.25" y1="35.5" x2="551.25" y2="987.5" stroke="#111" stroke-width="1"/>
<line x1="769.4" y1="35.5" x2="769.4" y2="987.5" stroke="#111" stroke-width="1"/>
<line x1="987.5" y1="35.5" x2="987.5" y2="987.5" stroke="#111" stroke-width="1"/>
<line x1="83.5" y1="142.0" x2="1174.5" y2="142.0" stroke="#111" stroke-width="1"/>
<line x1="83.5" y1="440.0" x2="1174.5" y2="440.0" stroke="#111" stroke-width="1"/>
<line x1="83.5" y1="738.0" x2="1174.5" y2="738.0" stroke="#111" stroke-width="1"/>
</g>
<rect x="73.6" y="25.8" width="1110.3000000000002" height="971.1" fill="none" stroke="#000" stroke-width="1.2"/>
<rect x="83.5" y="25.8" width="31.5" height="9.7" fill="#000"/>
<rect x="83.5" y="987.5" width="31.5" height="9.399999999999977" fill="#000"/>
<rect x="333.1" y="25.8" width="218.14999999999998" height="9.7" fill="#000"/>
<rect x="333.1" y="987.5" width="218.14999999999998" height="9.399999999999977" fill="#000"/>
<rect x="769.4" y="25.8" width="218.10000000000002" height="9.7" fill="#000"/>
<rect x="769.4" y="987.5" width="218.10000000000002" height="9.399999999999977" fill="#000"/>
<rect x="73.6" y="142.0" width="9.900000000000006" height="298.0" fill="#000"/>
<rect x="1174.5" y="142.0" width="9.400000000000091" height="298.0" fill="#000"/>
<rect x="73.6" y="738.0" width="9.900000000000006" height="249.5" fill="#000"/>
<rect x="1174.5" y="738.0" width="9.400000000000091" height="249.5" fill="#000"/>
<rect x="83.5" y="35.5" width="1091.0" height="952.0" fill="none" stroke="#000" stroke-width="1.2"/>
<line x1="83.5" y1="25.8" x2="83.5" y2="996.9" stroke="#000" stroke-width="1.2"/>
<line x1="1174.5" y1="25.8" x2="1174.5" y2="996.9" stroke="#000" stroke-width="1.2"/>
<line x1="73.6" y1="35.5" x2="1183.9" y2="35.5" stroke="#000" stroke-width="1.2"/>
<line x1="73.6" y1="987.5" x2="1183.9" y2="987.5" stroke="#000" stroke-width="1.2"/>
<line x1="115.0" y1="25.8" x2="115.0" y2="35.5" stroke="#000" stroke-width="1"/>
<line x1="115.0" y1="987.5" x2="115.0" y2="996.9" stroke="#000" stroke-width="1"/>
<line x1="333.1" y1="25.8" x2="333.1" y2="35.5" stroke="#000" stroke-width="1"/>
<line x1="333.1" y1="987.5" x2="333.1" y2="996.9" stroke="#000" stroke-width="1"/>
<line x1="551.25" y1="25.8" x2="551.25" y2="35.5" stroke="#000" stroke-width="1"/>
<line x1="551.25" y1="987.5" x2="551.25" y2="996.9" stroke="#000" stroke-width="1"/>
<line x1="769.4" y1="25.8" x2="769.4" y2="35.5" stroke="#000" stroke-width="1"/>
<line x1="769.4" y1="987.5" x2="769.4" y2="996.9" stroke="#000" stroke-width="1"/>
<line x1="987.5" y1="25.8" x2="987.5" y2="35.5" stroke="#000" stroke-width="1"/>
<line x1="987.5" y1="987.5" x2="987.5" y2="996.9" stroke="#000" stroke-width="1"/>
<line x1="73.6" y1="142.0" x2="83.5" y2="142.0" stroke="#000" stroke-width="1"/>
<line x1="1174.5" y1="142.0" x2="1183.9" y2="142.0" stroke="#000" stroke-width="1"/>
<line x1="73.6" y1="440.0" x2="83.5" y2="440.0" stroke="#000" stroke-width="1"/>
<line x1="1174.5" y1="440.0" x2="1183.9" y2="440.0" stroke="#000" stroke-width="1"/>
<line x1="73.6" y1="738.0" x2="83.5" y2="738.0" stroke="#000" stroke-width="1"/>
<line x1="1174.5" y1="738.0" x2="1183.9" y2="738.0" stroke="#000" stroke-width="1"/>
<text x="115.0" y="17" font-family="Liberation Sans, Arial, sans-serif" font-size="23" text-anchor="middle">13°00'</text>
<text x="115.0" y="1024" font-family="Liberation Sans, Arial, sans-serif" font-size="23" text-anchor="middle">13°00'</text>
<text x="333.1" y="17" font-family="Liberation Sans, Arial, sans-serif" font-size="23" text-anchor="middle">13°12'</text>
<text x="333.1" y="1024" font-family="Liberation Sans, Arial, sans-serif" font-size="23" text-anchor="middle">13°12'</text>
<text x="551.25" y="17" font-family="Liberation Sans, Arial, sans-serif" font-size="23" text-anchor="middle">13°24'</text>
<text x="551.25" y="1024" font-family="Liberation Sans, Arial, sans-serif" font-size="23" text-anchor="middle">13°24'</text>
<text x="769.4" y="17" font-family="Liberation Sans, Arial, sans-serif" font-size="23" text-anchor="middle">13°36'</text>
<text x="769.4" y="1024" font-family="Liberation Sans, Arial, sans-serif" font-size="23" text-anchor="middle">13°36'</text>
<text x="987.5" y="17" font-family="Liberation Sans, Arial, sans-serif" font-size="23" text-anchor="middle">13°48'</text>
<text x="987.5" y="1024" font-family="Liberation Sans, Arial, sans-serif" font-size="23" text-anchor="middle">13°48'</text>
<text x="64.5" y="150.0" font-family="Liberation Sans, Arial, sans-serif" font-size="23" text-anchor="end">43°24'</text>
<text x="1192.5" y="150.0" font-family="Liberation Sans, Arial, sans-serif" font-size="23">43°24'</text>
<text x="64.5" y="448.0" font-family="Liberation Sans, Arial, sans-serif" font-size="23" text-anchor="end">43°12'</text>
<text x="1192.5" y="448.0" font-family="Liberation Sans, Arial, sans-serif" font-size="23">43°12'</text>
<text x="64.5" y="746.0" font-family="Liberation Sans, Arial, sans-serif" font-size="23" text-anchor="end">43°00'</text>
<text x="1192.5" y="746.0" font-family="Liberation Sans, Arial, sans-serif" font-size="23">43°00'</text>
<polygon points="604.5,556.2 608.73,568.58 621.81,568.78 611.35,576.62 615.2,589.12 604.5,581.6 593.8,589.12 597.65,576.62 587.19,568.78 600.27,568.58" fill="none" stroke="#000" stroke-width="4.5" stroke-linejoin="miter"/>
<rect x="780.7" y="46" width="375.9" height="62.5" fill="#fff" stroke="#000" stroke-width="1.1"/>
<text x="786.1" y="59.6" font-family="Liberation Sans, Arial, sans-serif" font-size="12.2" fill="#000" textLength="365.5" lengthAdjust="spacingAndGlyphs">Terremoto del 01-09-2010 12:07:22 (ora locale) ML=2.4 Prof=21 km</text>
<text x="786.1" y="74.5" font-family="Liberation Sans, Arial, sans-serif" font-size="12.2" fill="#000" textLength="369.8" lengthAdjust="spacingAndGlyphs">Mappa preliminare delle intensità macrosismiche stimate nei comuni</text>
<text x="786.1" y="89.4" font-family="Liberation Sans, Arial, sans-serif" font-size="12.2" fill="#000" textLength="368.1" lengthAdjust="spacingAndGlyphs">Dati non verificati estratti da 81 questionari compilati tramite Internet.</text>
<text x="786.1" y="104.3" font-family="Liberation Sans, Arial, sans-serif" font-size="12.2" fill="#000" textLength="288.0" lengthAdjust="spacingAndGlyphs">Ultimo aggiornamento: 10-01-2026 05:37 (ora locale)</text>
<rect x="1055.5" y="171" width="99.5" height="473.3" fill="#fff" stroke="#000" stroke-width="1.1"/>
<text x="1105.3" y="188.2" font-family="DejaVu Sans, sans-serif" font-size="12.7" font-weight="bold" text-anchor="middle">Scala</text>
<text x="1105.3" y="204.3" font-family="DejaVu Sans, sans-serif" font-size="12.7" font-weight="bold" text-anchor="middle">Europea</text>
<text x="1105.3" y="219.8" font-family="DejaVu Sans, sans-serif" font-size="12.7" font-weight="bold" text-anchor="middle">(EMS)</text>
<rect x="1076.5" y="229.70" width="57" height="19" fill="#a7a7a7" stroke="#000" stroke-width="1"/>
<text x="1104.9" y="243.30" font-family="DejaVu Sans, sans-serif" font-size="11.6" font-weight="bold" text-anchor="middle" fill="#f2f2f2">n.a.*</text>
<rect x="1076.5" y="253.78" width="57" height="19" fill="#4f66ae" stroke="#000" stroke-width="1"/>
<text x="1104.9" y="267.38" font-family="DejaVu Sans, sans-serif" font-size="11.6" font-weight="bold" text-anchor="middle" fill="#fff">II</text>
<rect x="1076" y="277.36" width="58" height="20" fill="#002fba"/>
<text x="1104.9" y="291.46" font-family="DejaVu Sans, sans-serif" font-size="11.6" font-weight="bold" text-anchor="middle" fill="#fff">III</text>
<rect x="1076.5" y="301.94" width="57" height="19" fill="#0b62d5" stroke="#000" stroke-width="1"/>
<text x="1104.9" y="315.54" font-family="DejaVu Sans, sans-serif" font-size="11.6" font-weight="bold" text-anchor="middle" fill="#fff">III-IV</text>
<rect x="1076.5" y="326.02" width="57" height="19" fill="#0a9de6" stroke="#000" stroke-width="1"/>
<text x="1104.9" y="339.62" font-family="DejaVu Sans, sans-serif" font-size="11.6" font-weight="bold" text-anchor="middle" fill="#fff">IV</text>
<rect x="1076.5" y="350.10" width="57" height="19" fill="#0ac878" stroke="#000" stroke-width="1"/>
<text x="1104.9" y="363.70" font-family="DejaVu Sans, sans-serif" font-size="11.6" font-weight="bold" text-anchor="middle" fill="#000">IV-V</text>
<rect x="1076.5" y="374.18" width="57" height="19" fill="#00f000" stroke="#000" stroke-width="1"/>
<text x="1104.9" y="387.78" font-family="DejaVu Sans, sans-serif" font-size="11.6" font-weight="bold" text-anchor="middle" fill="#000">V</text>
<rect x="1076.5" y="398.26" width="57" height="19" fill="#c8f000" stroke="#000" stroke-width="1"/>
<text x="1104.9" y="411.86" font-family="DejaVu Sans, sans-serif" font-size="11.6" font-weight="bold" text-anchor="middle" fill="#000">V-VI</text>
<rect x="1076.5" y="422.34" width="57" height="19" fill="#fff000" stroke="#000" stroke-width="1"/>
<text x="1104.9" y="435.94" font-family="DejaVu Sans, sans-serif" font-size="11.6" font-weight="bold" text-anchor="middle" fill="#000">VI</text>
<rect x="1076.5" y="446.42" width="57" height="19" fill="#ffc800" stroke="#000" stroke-width="1"/>
<text x="1104.9" y="460.02" font-family="DejaVu Sans, sans-serif" font-size="11.6" font-weight="bold" text-anchor="middle" fill="#000">VI-VII</text>
<rect x="1076.5" y="470.50" width="57" height="19" fill="#ffa000" stroke="#000" stroke-width="1"/>
<text x="1104.9" y="484.10" font-family="DejaVu Sans, sans-serif" font-size="11.6" font-weight="bold" text-anchor="middle" fill="#000">VII</text>
<rect x="1076.5" y="494.58" width="57" height="19" fill="#ff6e00" stroke="#000" stroke-width="1"/>
<text x="1104.9" y="508.18" font-family="DejaVu Sans, sans-serif" font-size="11.6" font-weight="bold" text-anchor="middle" fill="#000">VII-VIII</text>
<rect x="1076.5" y="518.66" width="57" height="19" fill="#f50000" stroke="#000" stroke-width="1"/>
<text x="1104.9" y="532.26" font-family="DejaVu Sans, sans-serif" font-size="11.6" font-weight="bold" text-anchor="middle" fill="#000">VIII</text>
<text x="1105.4" y="557.3" font-family="DejaVu Sans, sans-serif" font-size="12.7" text-anchor="middle" fill="#222">*non avvertito</text>
<line x1="1055.5" y1="568.2" x2="1155" y2="568.2" stroke="#000" stroke-width="1" stroke-dasharray="2.2,1.8"/>
<text x="1105.3" y="583.4" font-family="DejaVu Sans, sans-serif" font-size="12.7" font-weight="bold" text-anchor="middle">Epicentro</text>
<text x="1105.3" y="599.4" font-family="DejaVu Sans, sans-serif" font-size="12.7" font-weight="bold" text-anchor="middle">strumentale</text>
<polygon points="1102.7,613.4 1104.7,619.25 1110.88,619.34 1105.93,623.05 1107.75,628.96 1102.7,625.4 1097.65,628.96 1099.47,623.05 1094.52,619.34 1100.7,619.25" fill="#fff" stroke="#000" stroke-width="1.1"/>
<rect x="179.3" y="930.6" width="135.1" height="6" fill="#fff" stroke="#000" stroke-width="1"/>
<rect x="179.3" y="930.6" width="27.2" height="6" fill="#000"/>
<rect x="233.2" y="930.6" width="27.0" height="6" fill="#000"/>
<rect x="286.8" y="930.6" width="27.6" height="6" fill="#000"/>
<line x1="179.3" y1="930.6" x2="179.3" y2="940.3" stroke="#000" stroke-width="1.2"/>
<line x1="206.5" y1="930.6" x2="206.5" y2="938.2" stroke="#000" stroke-width="1.2"/>
<line x1="233.2" y1="930.6" x2="233.2" y2="938.2" stroke="#000" stroke-width="1.2"/>
<line x1="260.2" y1="930.6" x2="260.2" y2="938.2" stroke="#000" stroke-width="1.2"/>
<line x1="286.8" y1="930.6" x2="286.8" y2="938.2" stroke="#000" stroke-width="1.2"/>
<line x1="314.4" y1="930.6" x2="314.4" y2="940.3" stroke="#000" stroke-width="1.2"/>
<text x="246.6" y="915" font-family="Liberation Sans, Arial, sans-serif" font-size="29.5" text-anchor="middle">km</text>
<text x="180" y="964.6" font-family="Liberation Sans, Arial, sans-serif" font-size="23.3" text-anchor="middle">0</text>
<text x="314.6" y="964.6" font-family="Liberation Sans, Arial, sans-serif" font-size="23.3" text-anchor="middle">10</text>
<defs><linearGradient id="gb" x1="0" y1="0" x2="0.3" y2="1"><stop offset="0" stop-color="#3aaad6"/><stop offset="0.55" stop-color="#1f7fb2"/><stop offset="1" stop-color="#155f8c"/></linearGradient><linearGradient id="tb" x1="0" y1="0" x2="1" y2="0"><stop offset="0" stop-color="#1560b0"/><stop offset="1" stop-color="#1ea0e6"/></linearGradient></defs>
<g transform="translate(98,44) scale(0.0664)">
<clipPath id="gc"><circle cx="512" cy="512" r="447"/></clipPath>
<circle cx="512" cy="512" r="447" fill="url(#gb)"/>
<g clip-path="url(#gc)">
<polygon points="565,250 600,180 660,70 780,130 800,190 700,200 600,245" fill="#2e9e3e"/>
<polygon points="580,262 700,205 795,185 805,310 760,300 680,275" fill="#e2141f"/>
<polygon points="790,150 880,220 950,330 980,430 915,445 800,330 800,190" fill="#cdbfd3"/>
<polygon points="585,275 690,280 795,330 720,425 650,330" fill="#2e9e3e"/>
<polygon points="560,285 650,340 712,432 640,452 556,462" fill="#f0dc14"/>
<polygon points="722,432 800,340 912,448 850,560 800,612" fill="#f0dc14"/>
<polygon points="912,442 970,410 990,500 925,475" fill="#2e9e3e"/>
<polygon points="552,466 712,440 795,612 700,645 548,692" fill="#e2141f"/>
<polygon points="800,615 850,560 925,475 990,510 960,650 890,740 840,775" fill="#cdbfd3"/>
<polygon points="545,696 700,652 800,620 842,792 700,905 520,990" fill="#2e9e3e"/>
<polygon points="842,792 900,730 930,760 860,820" fill="#e2141f"/>
<circle cx="560" cy="262" r="200" fill="none" stroke="#fff" stroke-width="13"/>
<circle cx="560" cy="262" r="425" fill="none" stroke="#fff" stroke-width="13"/>
<circle cx="560" cy="262" r="640" fill="none" stroke="#fff" stroke-width="13"/>
<path d="M560,262 Q527,631 500,1000" fill="none" stroke="#fff" stroke-width="13"/>
<path d="M560,262 Q351,581 180,900" fill="none" stroke="#fff" stroke-width="13"/>
<path d="M560,262 Q274,366 40,470" fill="none" stroke="#fff" stroke-width="13"/>
<path d="M560,262 Q483,151 420,40" fill="none" stroke="#fff" stroke-width="13"/>
<path d="M560,262 Q626,151 680,40" fill="none" stroke="#fff" stroke-width="13"/>
<path d="M560,262 Q802,531 1000,800" fill="none" stroke="#fff" stroke-width="13"/>
<path d="M560,262 Q802,356 1000,450" fill="none" stroke="#fff" stroke-width="13"/>
</g></g>
<text x="170.3" y="75" font-family="DejaVu Sans, sans-serif" font-stretch="condensed" font-size="11.8" fill="#3a3a3a" stroke="#3a3a3a" stroke-width="0.35" textLength="88.3" lengthAdjust="spacingAndGlyphs">ISTITUTO NAZIONALE</text>
<text x="170.3" y="89.5" font-family="DejaVu Sans, sans-serif" font-stretch="condensed" font-size="11.8" fill="#3a3a3a" stroke="#3a3a3a" stroke-width="0.35" textLength="134.7" lengthAdjust="spacingAndGlyphs">DI GEOFISICA E VULCANOLOGIA</text>
<circle cx="1096.9" cy="916.3" r="33.3" fill="#1b1b1b"/>
<circle cx="1096.9" cy="916.3" r="17.6" fill="none" stroke="#e30613" stroke-width="6.3"/>
<circle cx="1096.9" cy="916.3" r="8.2" fill="#e30613"/>
<polygon points="1104.5,910.8 1130.5,901.2 1133.3,903 1133.3,932 1130.5,934 1104.5,923.5" fill="url(#tb)"/>
<circle cx="1147" cy="916.5" r="9.6" fill="#e30613"/>
<text x="1147" y="921.5" font-family="DejaVu Sans, sans-serif" font-weight="bold" font-size="13" fill="#fff" text-anchor="middle" transform="rotate(90 1147 916.5)">?</text>
<path id="hsarc" d="M1133.20,938.98 A42.8,42.8 0 1 1 1133.59,894.26" fill="none"/>
<text font-family="DejaVu Sans, sans-serif" font-size="19" font-weight="bold" fill="#1b1b1b"><textPath href="#hsarc" textLength="224" lengthAdjust="spacingAndGlyphs"><tspan fill="#e30613">www.</tspan><tspan font-weight="normal" fill="#333">hai</tspan>sentito<tspan font-size="15" font-weight="normal" fill="#555" font-style="italic">il</tspan>terremoto<tspan fill="#e30613">.it</tspan></textPath></text>
</svg></body></html>
